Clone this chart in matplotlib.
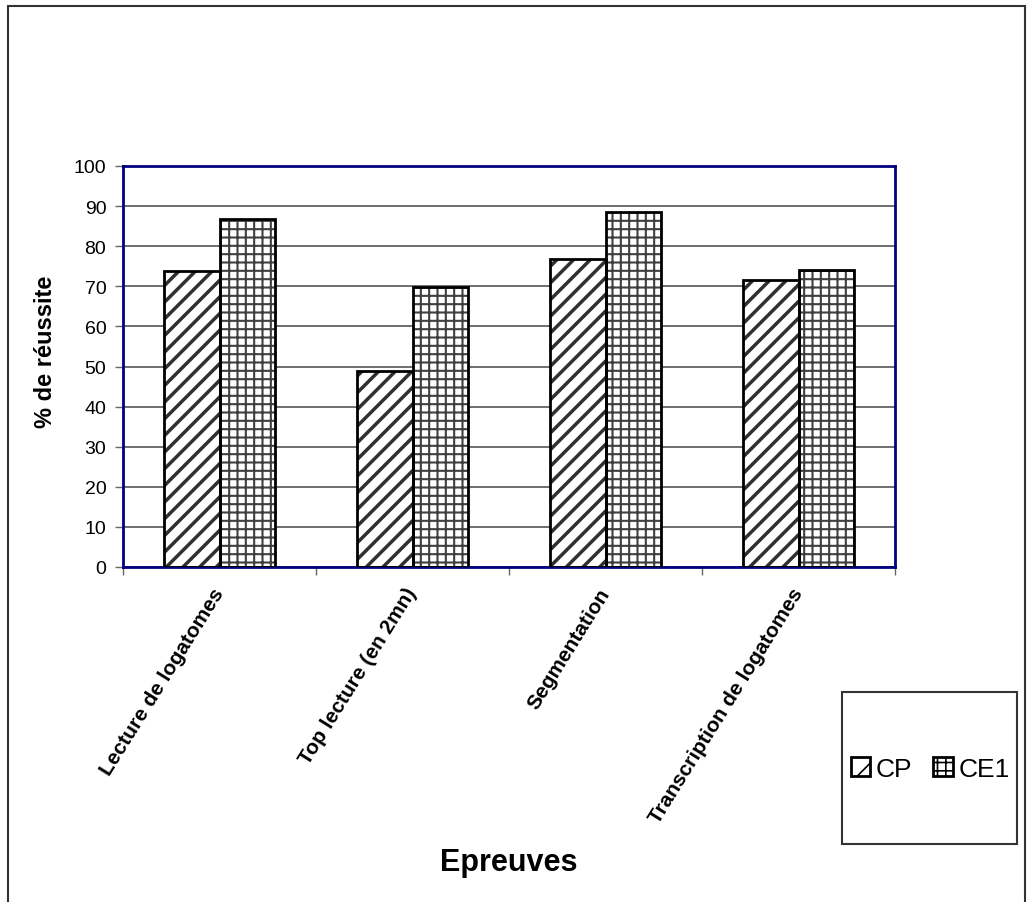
import matplotlib.pyplot as plt
import matplotlib.patches as mpatches
import numpy as np

plt.rcParams['font.family'] = ['Liberation Sans', 'DejaVu Sans']

categories = ['Lecture de logatomes', 'Top lecture (en 2mn)', 'Segmentation',
              'Transcription de logatomes']
cp = [73.9, 48.8, 76.9, 71.6]
ce1 = [86.8, 69.8, 88.6, 74.1]
yticks = [0, 10, 20, 30, 40, 50, 60, 70, 80, 90, 100]

fig = plt.figure(figsize=(10.33, 9.03), dpi=100)
ax = fig.add_axes([123 / 1033, 1 - 568 / 903, (895 - 123) / 1033, (568 - 167) / 903])

x = np.arange(len(categories))
w = 0.29


def hatch_bars(xs, vals, hatch, hcolor, hlw):
    old = plt.rcParams['hatch.linewidth']
    plt.rcParams['hatch.linewidth'] = hlw
    plt.rcParams['hatch.color'] = hcolor
    bars = ax.bar(xs, vals, w, facecolor='white', edgecolor=hcolor, hatch=hatch,
                  linewidth=0, zorder=2)
    for b in bars:
        if hasattr(b, 'set_hatch_linewidth'):
            b.set_hatch_linewidth(hlw)
    # black outline on top
    ax.bar(xs, vals, w, facecolor='none', edgecolor='black', linewidth=2, zorder=3)
    plt.rcParams['hatch.linewidth'] = old
    return bars


hatch_bars(x - w / 2, cp, '//', '#303030', 2.5)
hatch_bars(x + w / 2, ce1, '++', '#404040', 1.5)

ax.set_xlim(-0.5, len(categories) - 0.5)
ax.set_ylim(0, 100)
ax.set_yticks(yticks)
ax.yaxis.grid(True, color='#555555', linewidth=1.2, zorder=0)
ax.set_axisbelow(True)
ax.tick_params(axis='y', direction='out', length=6, width=1, color='#666666',
               labelsize=14, pad=6)

ax.set_xticks(x)
ax.set_xticklabels(categories, rotation=58, ha='right', va='center',
                   rotation_mode='anchor', fontsize=15, fontweight='bold')
ax.tick_params(axis='x', which='major', length=0, pad=16)
ax.set_xticks(np.arange(-0.5, len(categories)), minor=True)
ax.tick_params(axis='x', which='minor', direction='out', length=6, width=1,
               color='#666666')

for s in ax.spines.values():
    s.set_color('#000080')
    s.set_linewidth(2)

ax.set_ylabel('% de réussite', fontsize=17, fontweight='bold')
ax.yaxis.set_label_coords(-0.0855, 0.539)

fig.text(509 / 1033, 1 - 863 / 903, 'Epreuves', ha='center', va='center',
         fontsize=22, fontweight='bold')

# legend box
fig.patches.append(mpatches.Rectangle((842 / 1033, 1 - 845 / 903), 175 / 1033, 152 / 903,
                                      transform=fig.transFigure, facecolor='white',
                                      edgecolor='#333333', linewidth=1.5))
plt.rcParams['hatch.linewidth'] = 1.2
h1 = mpatches.Patch(facecolor='white', edgecolor='black', hatch='/', linewidth=2)
h2 = mpatches.Patch(facecolor='white', edgecolor='black', hatch='++', linewidth=2)
fig.legend([h1, h2], ['CP', 'CE1'], loc='center', ncol=2, frameon=False,
           bbox_to_anchor=(930 / 1033, 1 - 770 / 903), fontsize=19,
           handlelength=0.75, handleheight=0.75, handletextpad=0.2, columnspacing=0.8)

# outer border
fig.patches.append(mpatches.Rectangle((8 / 1033, -0.05), 1017 / 1033, 1.05 - 7 / 903,
                                      transform=fig.transFigure, facecolor='none',
                                      edgecolor='#333333', linewidth=1.5))

fig.savefig('out.png', dpi=100)
